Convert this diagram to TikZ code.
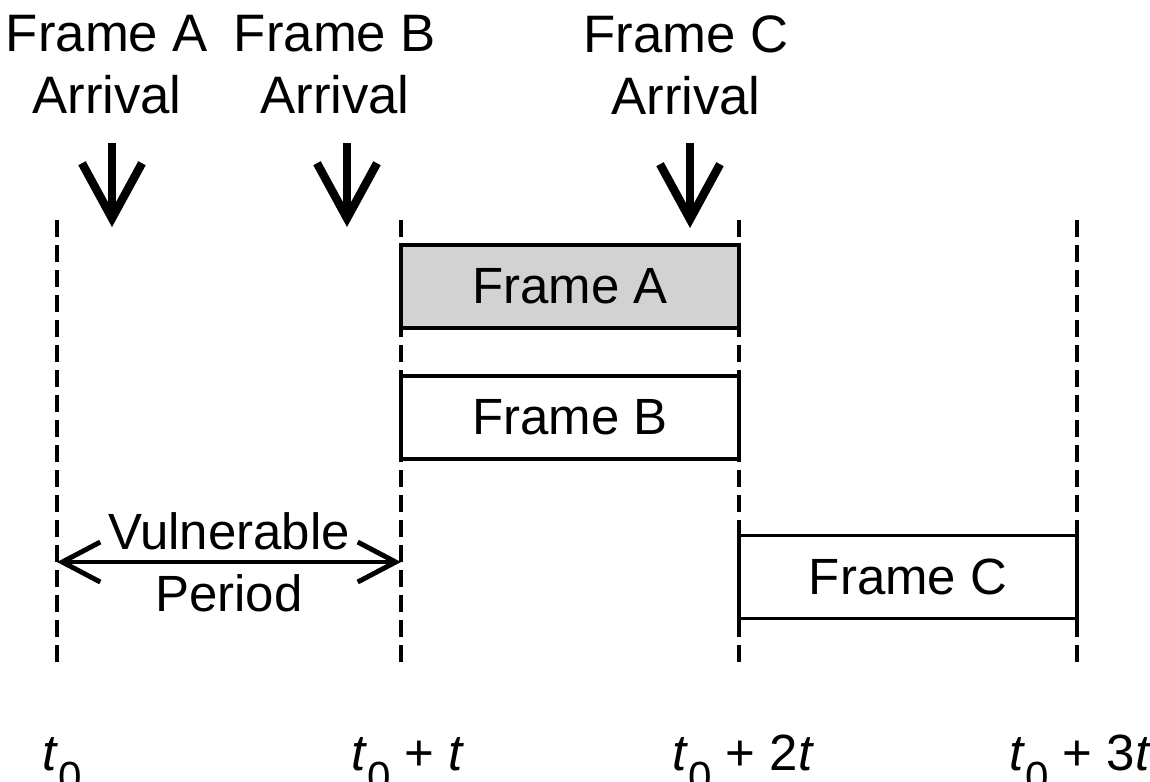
\documentclass[tikz,border=0pt]{standalone}
\usepackage{fontspec}
\setmainfont{Liberation Sans}
\usetikzlibrary{arrows.meta}
\newcommand{\tsub}[1]{\raisebox{-0.42em}{\fontsize{12}{12}\selectfont #1}}

\begin{document}
\begin{tikzpicture}[line width=0.9pt,
    every node/.style={font=\fontsize{14.5}{17.6}\selectfont},
    head/.style={align=center,font=\fontsize{15}{17.6}\selectfont},
    slot/.style={draw,fill=white,minimum width=3.38cm,minimum height=0.83cm,inner sep=0pt},
    tick/.style={line width=1.2pt,dash pattern=on 0.17cm off 0.08cm},
    drop/.style={-{Straight Barb[length=5.5mm,width=6mm]},line width=2.4pt},
    span/.style={{Straight Barb[length=3.8mm,width=4mm]}-{Straight Barb[length=3.8mm,width=4mm]},line width=1.4pt}]

    \useasboundingbox (0,0) rectangle (11.5,-7.81);

    \coordinate (g0) at (0.57,-2.20);  \coordinate (h0) at (0.57,-6.68);
    \coordinate (g1) at (4.01,-2.20);  \coordinate (h1) at (4.01,-6.68);
    \coordinate (g2) at (7.39,-2.20);  \coordinate (h2) at (7.39,-6.68);
    \coordinate (g3) at (10.77,-2.20); \coordinate (h3) at (10.77,-6.68);

    \path[tick] (g0) edge (h0) (g1) edge (h1) (g2) edge (h2) (g3) edge (h3);

    \node[head] (arrA) at (1.07,-0.65) {Frame A\\Arrival};
    \node[head] (arrB) at (3.35,-0.65) {Frame B\\Arrival};
    \node[head] (arrC) at (6.86,-0.65) {Frame C\\Arrival};

    \coordinate (ta) at (1.12,-1.43); \coordinate (ea) at (1.12,-2.27);
    \coordinate (tb) at (3.47,-1.43); \coordinate (eb) at (3.47,-2.27);
    \coordinate (tc) at (6.90,-1.43); \coordinate (ec) at (6.90,-2.28);

    \path[drop] (ta) edge (ea) (tb) edge (eb) (tc) edge (ec);

    \node[slot,fill=gray!35] (fa) at (5.70,-2.865) {Frame A};
    \node[slot] (fb) at (5.70,-4.175) {Frame B};
    \node[slot] (fc) at (9.08,-5.77) {Frame C};

    \coordinate (va) at (0.57,-5.62); \coordinate (vb) at (4.01,-5.62);
    \path[span] (va) edge node[align=center] {Vulnerable\\Period} (vb);

    \node[anchor=base west] (l0) at (0.29,-7.70) {\textit{t}\tsub{0}};
    \node[anchor=base west] (l1) at (3.38,-7.70) {\textit{t}\tsub{0} + \textit{t}};
    \node[anchor=base west] (l2) at (6.59,-7.70) {\textit{t}\tsub{0} + 2\textit{t}};
    \node[anchor=base west] (l3) at (9.96,-7.70) {\textit{t}\tsub{0} + 3\textit{t}};

\end{tikzpicture}
\end{document}
